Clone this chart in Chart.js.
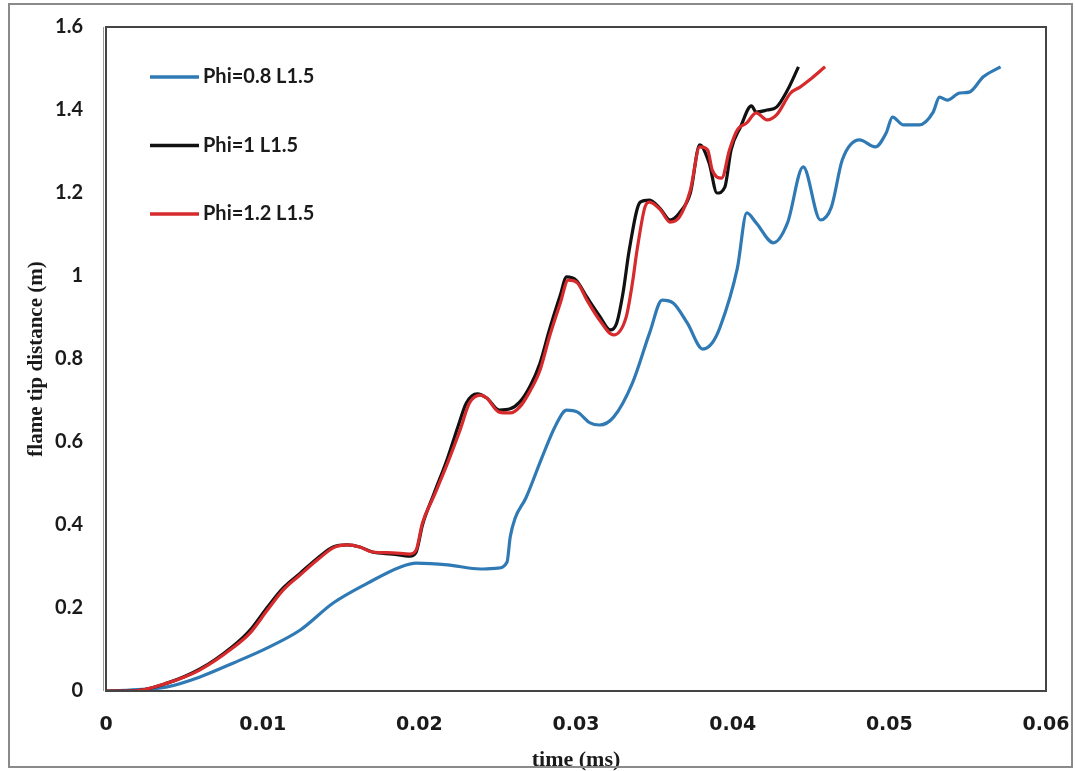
<!DOCTYPE html>
<html>
<head>
<meta charset="utf-8">
<script src="https://cdn.jsdelivr.net/npm/chart.js@4.4.1/dist/chart.umd.min.js"></script>
<style>
  body { margin: 0; background: #fff; }
  #wrap { position: relative; width: 1075px; height: 771px; }
  #frame { position: absolute; left: 8px; top: 3px; width: 1065px; height: 765px; border: 2px solid #8a8a8a; box-sizing: border-box; pointer-events: none; }
</style>
</head>
<body>
<div id="wrap">
  <canvas id="graph1" width="1075" height="771"></canvas>
  <div id="frame"></div>
</div>
<script>
// flame tip position over time for three equivalence ratios
const time08 = [0, 0.0015, 0.0039, 0.0060, 0.0081, 0.0103, 0.0124, 0.0145, 0.0167, 0.0188, 0.0198, 0.0218, 0.0239, 0.0250, 0.0256, 0.0258, 0.0261, 0.0268, 0.0278, 0.0287, 0.0294, 0.0301, 0.0309, 0.0315, 0.0324, 0.0336, 0.0347, 0.0355, 0.0362, 0.0371, 0.0381, 0.0387, 0.0392, 0.0403, 0.0409, 0.0415, 0.0426, 0.0435, 0.0445, 0.0456, 0.0463, 0.0470, 0.0481, 0.0491, 0.0498, 0.0502, 0.0509, 0.0519, 0.0528, 0.0532, 0.0537, 0.0545, 0.0551, 0.0560, 0.0571];
const dist08 = [0, 0.002, 0.010, 0.034, 0.067, 0.104, 0.147, 0.212, 0.260, 0.299, 0.308, 0.304, 0.294, 0.296, 0.311, 0.371, 0.415, 0.465, 0.560, 0.640, 0.677, 0.672, 0.646, 0.641, 0.660, 0.742, 0.863, 0.942, 0.935, 0.887, 0.824, 0.839, 0.877, 1.019, 1.152, 1.128, 1.080, 1.128, 1.263, 1.135, 1.166, 1.280, 1.328, 1.311, 1.345, 1.383, 1.364, 1.364, 1.395, 1.431, 1.424, 1.441, 1.443, 1.480, 1.504];

const time10 = [0, 0.0017, 0.0039, 0.0060, 0.0081, 0.0092, 0.0103, 0.0113, 0.0124, 0.0135, 0.0145, 0.0154, 0.0162, 0.0170, 0.0183, 0.0194, 0.0198, 0.0202, 0.0209, 0.0218, 0.0225, 0.0230, 0.0237, 0.0243, 0.0251, 0.0258, 0.0264, 0.0271, 0.0277, 0.0283, 0.0290, 0.0294, 0.0300, 0.0307, 0.0315, 0.0322, 0.0326, 0.0330, 0.0334, 0.0341, 0.0347, 0.0354, 0.0360, 0.0366, 0.0373, 0.0379, 0.0385, 0.0390, 0.0395, 0.0399, 0.0405, 0.0412, 0.0415, 0.0422, 0.0428, 0.0435, 0.0442];
const dist10 = [0, 0.000, 0.019, 0.053, 0.108, 0.147, 0.202, 0.248, 0.284, 0.320, 0.347, 0.352, 0.347, 0.335, 0.330, 0.325, 0.335, 0.400, 0.472, 0.561, 0.641, 0.694, 0.716, 0.706, 0.677, 0.680, 0.696, 0.737, 0.790, 0.870, 0.954, 0.998, 0.990, 0.949, 0.904, 0.870, 0.887, 0.959, 1.063, 1.178, 1.183, 1.161, 1.135, 1.152, 1.200, 1.316, 1.272, 1.200, 1.214, 1.304, 1.359, 1.410, 1.395, 1.400, 1.407, 1.448, 1.504];

const time12 = [0, 0.0017, 0.0039, 0.0060, 0.0081, 0.0092, 0.0103, 0.0113, 0.0124, 0.0135, 0.0145, 0.0154, 0.0162, 0.0170, 0.0183, 0.0194, 0.0198, 0.0202, 0.0209, 0.0218, 0.0226, 0.0232, 0.0239, 0.0243, 0.0251, 0.0258, 0.0264, 0.0271, 0.0277, 0.0283, 0.0290, 0.0295, 0.0301, 0.0307, 0.0315, 0.0324, 0.0332, 0.0336, 0.0339, 0.0344, 0.0347, 0.0354, 0.0360, 0.0366, 0.0373, 0.0379, 0.0384, 0.0387, 0.0393, 0.0398, 0.0403, 0.0409, 0.0415, 0.0422, 0.0428, 0.0437, 0.0443, 0.0449, 0.0459];
const dist12 = [0, 0.000, 0.019, 0.051, 0.104, 0.140, 0.195, 0.243, 0.280, 0.316, 0.345, 0.352, 0.347, 0.335, 0.333, 0.330, 0.340, 0.405, 0.467, 0.549, 0.629, 0.694, 0.713, 0.706, 0.672, 0.670, 0.684, 0.725, 0.773, 0.853, 0.935, 0.990, 0.983, 0.942, 0.894, 0.858, 0.901, 0.983, 1.063, 1.166, 1.178, 1.159, 1.130, 1.142, 1.207, 1.311, 1.304, 1.255, 1.236, 1.304, 1.352, 1.369, 1.393, 1.376, 1.388, 1.441, 1.455, 1.472, 1.504];

const seriesNames = ['Phi=0.8 L1.5', 'Phi=1 L1.5', 'Phi=1.2 L1.5'];
const seriesColors = ['#2f7ab5', '#111111', '#d62a2c'];

const xTicks = [0, 0.01, 0.02, 0.03, 0.04, 0.05, 0.06];
const yTicks = [0, 0.2, 0.4, 0.6, 0.8, 1, 1.2, 1.4, 1.6];

function toPoints(xs, ys) {
    return xs.map((x, i) => ({ x: x, y: ys[i] }));
}

// box around the plot area plus the legend in the upper left corner
const plotDecor = {
    id: 'plotDecor',
    afterDatasetsDraw(chart) {
        const ctx = chart.ctx;
        const a = chart.chartArea;
        ctx.save();
        ctx.strokeStyle = '#9a9a9a';
        ctx.lineWidth = 1;
        ctx.beginPath();
        ctx.moveTo(a.left - 2.5, a.top);
        ctx.lineTo(a.left - 2.5, a.bottom);
        ctx.stroke();
        ctx.strokeStyle = '#444';
        ctx.lineWidth = 2;
        ctx.strokeRect(a.left, a.top, a.right - a.left, a.bottom - a.top);

        ctx.font = 'bold 20px Lato';
        ctx.textBaseline = 'middle';
        ctx.fillStyle = '#1a1a1a';
        for (let i = 0; i < seriesNames.length; i++) {
            const y = 77 + i * 68.5;
            ctx.strokeStyle = seriesColors[i];
            ctx.lineWidth = 3.5;
            ctx.beginPath();
            ctx.moveTo(150, y);
            ctx.lineTo(199, y);
            ctx.stroke();
            ctx.fillText(seriesNames[i], 203, y);
        }
        ctx.restore();
    }
};

// keep the tick labels from pushing the plot area inwards
function noLabelOverhang(scale) {
    scale.paddingLeft = 0;
    scale.paddingRight = 0;
    scale.paddingTop = 0;
    scale.paddingBottom = 0;
}

var ctx = document.getElementById('graph1').getContext('2d');
var myChart = new Chart(ctx, {
    type: 'scatter',
    data: {
        datasets: [
            { label: seriesNames[0], data: toPoints(time08, dist08), borderColor: seriesColors[0], order: 2 },
            { label: seriesNames[1], data: toPoints(time10, dist10), borderColor: seriesColors[1], order: 1 },
            { label: seriesNames[2], data: toPoints(time12, dist12), borderColor: seriesColors[2], order: 0 }
        ]
    },
    options: {
        responsive: false,
        animation: false,
        showLine: true,
        layout: { padding: { top: 27, right: 29, left: 0, bottom: 0 } },
        plugins: {
            legend: { display: false },
            tooltip: { enabled: false }
        },
        elements: {
            point: { radius: 0 },
            line: { borderWidth: 3.2, cubicInterpolationMode: 'monotone' }
        },
        scales: {
            x: {
                type: 'linear',
                min: 0,
                max: 0.06,
                afterBuildTicks: scale => { scale.ticks = xTicks.map(v => ({ value: v })); },
                afterFit: scale => { scale.height = 80; noLabelOverhang(scale); },
                grid: { display: false, drawTicks: false },
                border: { display: false },
                ticks: {
                    padding: 23,
                    color: '#1a1a1a',
                    font: { family: 'DejaVu Sans', weight: 'bold', size: 19 },
                    callback: v => v === 0 ? '0' : v.toFixed(2)
                },
                title: {
                    display: true,
                    text: 'time (ms)',
                    color: '#1a1a1a',
                    font: { family: 'Liberation Serif', weight: 'bold', size: 22, lineHeight: 1 },
                    padding: { top: 0, bottom: 0 }
                }
            },
            y: {
                min: 0,
                max: 1.6,
                afterBuildTicks: scale => { scale.ticks = yTicks.map(v => ({ value: v })); },
                afterFit: scale => { scale.width = 106; noLabelOverhang(scale); },
                grid: { display: false, drawTicks: false },
                border: { display: false },
                ticks: {
                    padding: 23,
                    color: '#1a1a1a',
                    font: { family: 'Lato', weight: 'bold', size: 20 },
                    callback: v => String(Number(v.toFixed(1)))
                },
                title: {
                    display: true,
                    text: 'flame tip distance (m)',
                    color: '#1a1a1a',
                    font: { family: 'Liberation Serif', weight: 'bold', size: 21, lineHeight: 1 },
                    padding: { top: 26, bottom: 0 }
                }
            }
        }
    },
    plugins: [plotDecor]
});
</script>
</body>
</html>
